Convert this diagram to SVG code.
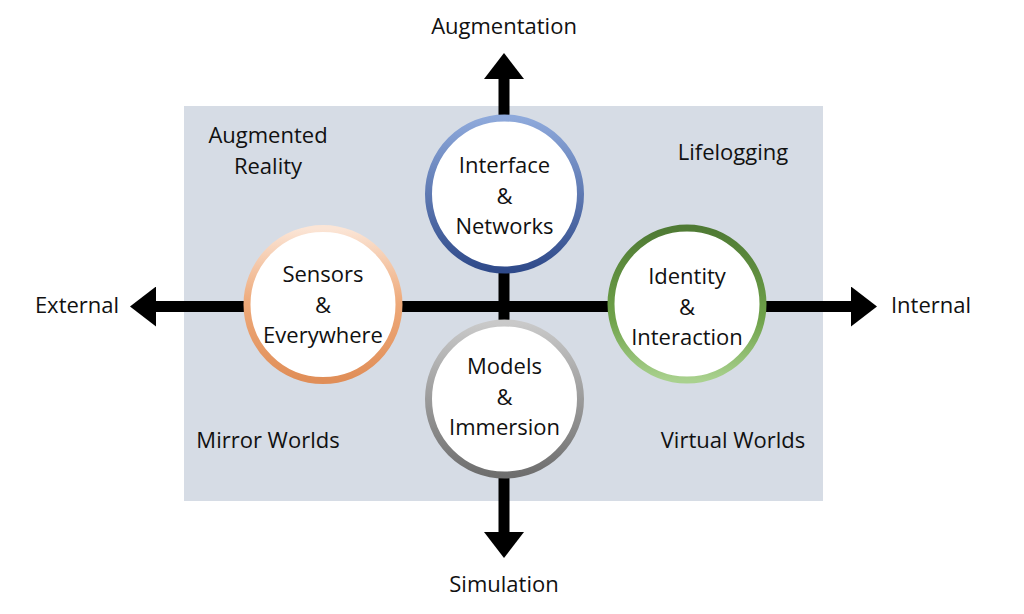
<svg xmlns="http://www.w3.org/2000/svg" width="1024" height="614" viewBox="0 0 1024 614">
  <style>
    text { font-family: "Open Sans", "Liberation Sans", sans-serif; font-size: 22px; fill: #111; text-anchor: middle; }
    .axis { stroke: #000; stroke-width: 11; fill: none; marker-start: url(#head); marker-end: url(#head); }
    .node { fill: #fff; stroke-width: 7; }
  </style>
  <defs>
    <marker id="head" markerUnits="userSpaceOnUse" markerWidth="26" markerHeight="40" viewBox="0 0 26 40" refX="1" refY="20" orient="auto-start-reverse">
      <path d="M0,0 L26,20 L0,40 Z" fill="#000"/>
    </marker>
    <linearGradient id="gBlue" x1="0" y1="0" x2="0" y2="1">
      <stop offset="0" stop-color="#8EA9DB"/>
      <stop offset="1" stop-color="#2F4A8A"/>
    </linearGradient>
    <linearGradient id="gOrange" x1="0" y1="0" x2="0" y2="1">
      <stop offset="0" stop-color="#FBE5D6"/>
      <stop offset="0.5" stop-color="#EDA878"/>
      <stop offset="1" stop-color="#E08E58"/>
    </linearGradient>
    <linearGradient id="gGreen" x1="0" y1="0" x2="0" y2="1">
      <stop offset="0" stop-color="#4F7A34"/>
      <stop offset="0.6" stop-color="#6FA24A"/>
      <stop offset="1" stop-color="#A9D18E"/>
    </linearGradient>
    <linearGradient id="gGray" x1="0" y1="0" x2="0" y2="1">
      <stop offset="0" stop-color="#C9C9C9"/>
      <stop offset="1" stop-color="#6E6E6E"/>
    </linearGradient>
  </defs>

  <rect id="background" x="184" y="106" width="639" height="395" fill="#D6DCE5"/>

  <g id="quadrant-labels">
    <text x="268" y="143">Augmented</text>
    <text x="268" y="174">Reality</text>
    <text x="733" y="160">Lifelogging</text>
    <text x="268" y="448">Mirror Worlds</text>
    <text x="733" y="448">Virtual Worlds</text>
  </g>

  <g id="connectors">
    <line class="axis" x1="504" y1="78" x2="504" y2="533"/>
    <line class="axis" x1="155" y1="306.5" x2="852" y2="306.5"/>
  </g>

  <g id="axis-labels">
    <text x="504" y="34">Augmentation</text>
    <text x="504" y="592">Simulation</text>
    <text x="77" y="313">External</text>
    <text x="931" y="313">Internal</text>
  </g>

  <g id="interface-networks">
    <circle class="node" cx="504.5" cy="194" r="76" stroke="url(#gBlue)"/>
    <text x="504.5" y="173">Interface</text>
    <text x="504.5" y="204">&amp;</text>
    <text x="504.5" y="234">Networks</text>
  </g>

  <g id="sensors-everywhere">
    <circle class="node" cx="323" cy="304.5" r="76" stroke="url(#gOrange)"/>
    <text x="323" y="282">Sensors</text>
    <text x="323" y="313">&amp;</text>
    <text x="323" y="343">Everywhere</text>
  </g>

  <g id="identity-interaction">
    <circle class="node" cx="687" cy="304" r="76" stroke="url(#gGreen)"/>
    <text x="687" y="284">Identity</text>
    <text x="687" y="315">&amp;</text>
    <text x="687" y="345">Interaction</text>
  </g>

  <g id="models-immersion">
    <circle class="node" cx="504.5" cy="399" r="76" stroke="url(#gGray)"/>
    <text x="504.5" y="374">Models</text>
    <text x="504.5" y="405">&amp;</text>
    <text x="504.5" y="435">Immersion</text>
  </g>
</svg>
